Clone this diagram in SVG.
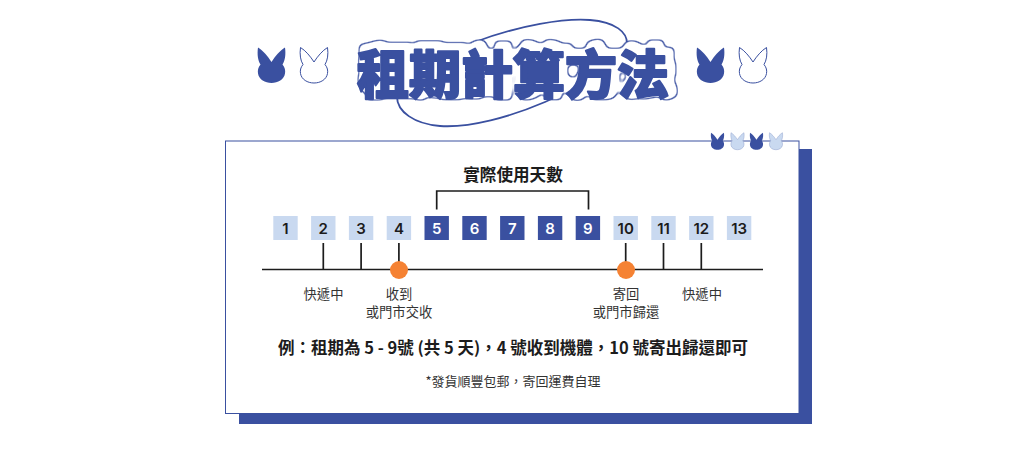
<svg xmlns="http://www.w3.org/2000/svg" width="1024" height="449" viewBox="0 0 1024 449">
<style>
text{font-family:"Noto Sans CJK TC","Noto Sans CJK SC",sans-serif;text-anchor:middle;fill:#1c1c1c}
.t{font-size:52px;font-weight:900}
.c{fill:#c9d9f0}.d{fill:#3a50a0}
.n{font-family:"Inter","Noto Sans CJK TC",sans-serif;font-size:15px;font-weight:600}
.w{fill:#fff}
.l{font-size:13.300px;fill:#333}
.k{stroke:#1c1c1c;stroke-width:1.700;fill:none}
</style>
<defs>
<path id="r" d="M0 0C5 3 10 9 13.500 14.500C17 9 22 3 27 0C28 7 27 13 24.500 17C27 20 27.500 23 27 26C26 32 20 35.500 13.500 35.500C7 35.500 1 32 0 26C-.5 23 0 20 2.500 17C0 13-1 7 0 0Z"/>
<filter id="bubble" x="-5%" y="-25%" width="110%" height="150%" color-interpolation-filters="sRGB">
<feMorphology in="SourceAlpha" operator="dilate" radius="3.500"/>
<feGaussianBlur stdDeviation="2.500"/>
<feComponentTransfer result="a"><feFuncA type="linear" slope="5" intercept="-1.800"/></feComponentTransfer>
<feOffset in="a" dx="4.500" dy="-4" result="o"/>
<feFlood flood-color="#3a50a0"/>
<feComposite in2="o" operator="in" result="blue"/>
<feMorphology in="o" operator="erode" radius="1" result="inner"/>
<feFlood flood-color="#fff"/>
<feComposite in2="inner" operator="in" result="white"/>
<feMerge><feMergeNode in="blue"/><feMergeNode in="white"/><feMergeNode in="SourceGraphic"/></feMerge>
</filter>
</defs>
<g id="title">
<path d="M475 42C520 25 565 18 590 20C615 22 628 32 627 45C625 60 590 82 545 102C510 117 470 128 440 126C415 124 396 112 397 95C398 75 430 58 475 42Z" fill="none" stroke="#3a50a0" stroke-width="1.800"/>
<rect x="364" y="47" width="304" height="47" fill="#fff"/>
<text class="t" x="513" y="94" filter="url(#bubble)" style="fill:#3a50a0;stroke:#3a50a0;stroke-width:2;stroke-linejoin:round">租期計算方法</text>
</g>
<g id="rabbits">
<use href="#r" x="258" y="47.500" fill="#3a50a0"/>
<use href="#r" x="300.500" y="47.500" fill="#fff" stroke="#3a50a0" stroke-width="1"/>
<use href="#r" x="697" y="47.500" fill="#3a50a0"/>
<use href="#r" x="739.500" y="47.500" fill="#fff" stroke="#3a50a0" stroke-width="1"/>
</g>
<g id="card">
<rect x="239" y="149" width="573" height="275" fill="#3a50a0"/>
<rect x="225.500" y="141" width="573.500" height="272.500" fill="#fff" stroke="#3a50a0" stroke-width="1"/>
</g>
<g id="card-rabbits">
<use href="#r" transform="translate(711 132.700) scale(.48)" fill="#3a50a0"/>
<use href="#r" transform="translate(731 132.700) scale(.48)" fill="#c9d9f0" stroke="#8fa0cc"/>
<use href="#r" transform="translate(750 132.700) scale(.48)" fill="#3a50a0"/>
<use href="#r" transform="translate(769.500 132.700) scale(.48)" fill="#c9d9f0" stroke="#8fa0cc"/>
</g>
<g id="days">
<rect class="c" x="273.300" y="216" width="24.400" height="24"/><text class="n" x="285.500" y="233.500">1</text>
<rect class="c" x="311.100" y="216" width="24.400" height="24"/><text class="n" x="323.300" y="233.500">2</text>
<rect class="c" x="348.900" y="216" width="24.400" height="24"/><text class="n" x="361.100" y="233.500">3</text>
<rect class="c" x="386.700" y="216" width="24.400" height="24"/><text class="n" x="398.900" y="233.500">4</text>
<rect class="d" x="424.500" y="216" width="24.400" height="24"/><text class="n w" x="436.700" y="233.500">5</text>
<rect class="d" x="462.300" y="216" width="24.400" height="24"/><text class="n w" x="474.500" y="233.500">6</text>
<rect class="d" x="500.100" y="216" width="24.400" height="24"/><text class="n w" x="512.300" y="233.500">7</text>
<rect class="d" x="537.900" y="216" width="24.400" height="24"/><text class="n w" x="550.100" y="233.500">8</text>
<rect class="d" x="575.700" y="216" width="24.400" height="24"/><text class="n w" x="587.900" y="233.500">9</text>
<rect class="c" x="613.500" y="216" width="24.400" height="24"/><text class="n" x="625.700" y="233.500">10</text>
<rect class="c" x="651.300" y="216" width="24.400" height="24"/><text class="n" x="663.500" y="233.500">11</text>
<rect class="c" x="689.100" y="216" width="24.400" height="24"/><text class="n" x="701.300" y="233.500">12</text>
<rect class="c" x="726.900" y="216" width="24.400" height="24"/><text class="n" x="739.100" y="233.500">13</text>
</g>
<g id="connectors">
<path class="k" d="M436.700 209.500V191H588.500V209.500"/>
<path class="k" d="M262 269.500H763M323.300 243V269.500M361.100 243V269.500M398.900 243V269.500M625.700 243V269.500M663.500 243V269.500M701.300 243V269.500"/>
</g>
<g id="dots" fill="#f58233">
<circle cx="399" cy="270" r="9"/>
<circle cx="626" cy="270" r="9"/>
</g>
<g id="labels">
<text x="513" y="181" font-size="16.600" font-weight="700">實際使用天數</text>
<text class="l" x="323.500" y="298.500">快遞中</text>
<text class="l" x="399" y="298.500">收到</text>
<text class="l" x="399" y="317">或門市交收</text>
<text class="l" x="626" y="298.500">寄回</text>
<text class="l" x="626" y="317">或門市歸還</text>
<text class="l" x="702" y="298.500">快遞中</text>
<text x="513" y="353.500" font-size="16.500" font-weight="700">例：租期為 5 - 9號 (共 5 天)，4 號收到機體，10 號寄出歸還即可</text>
<text x="513" y="385.500" font-size="13" style="fill:#333">*發貨順豐包郵，寄回運費自理</text>
</g>
</svg>
